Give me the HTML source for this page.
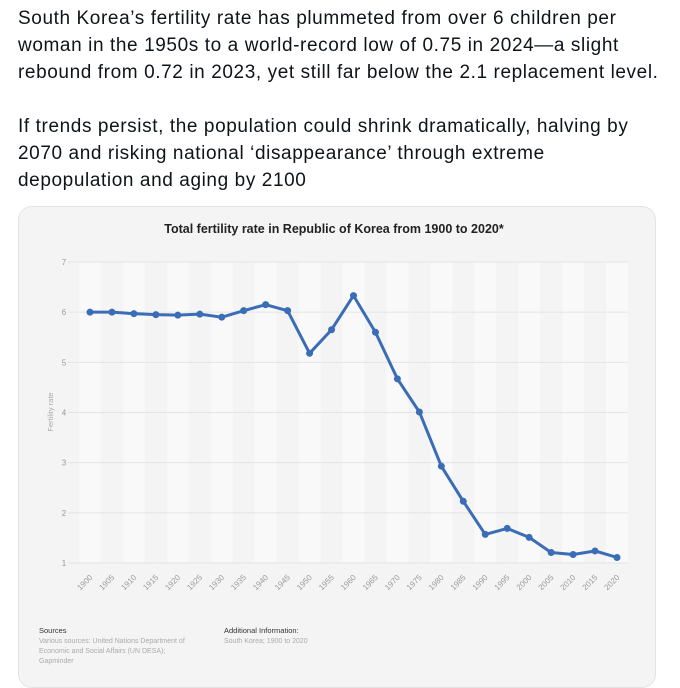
<!DOCTYPE html>
<html><head><meta charset="utf-8"><style>
body{margin:0;width:680px;height:667px;background:#fff;overflow:hidden;font-family:"Liberation Sans",sans-serif;}
#txt{position:absolute;left:18px;top:5px;width:660px;font-size:19px;line-height:27px;color:#0f1419;letter-spacing:0.6px;white-space:nowrap}
#card{position:absolute;left:18px;top:206px;width:636px;height:480px;border:1px solid #e3e3e3;border-radius:14px;background:#f4f4f4;overflow:hidden}
</style></head><body>
<div id="txt">South Korea’s fertility rate has plummeted from over 6 children per<br>woman in the 1950s to a world-record low of 0.75 in 2024—a slight<br>rebound from 0.72 in 2023, yet still far below the 2.1 replacement level.<br><br>If trends persist, the population could shrink dramatically, halving by<br>2070 and risking national ‘disappearance’ through extreme<br>depopulation and aging by 2100</div>
<div id="card"></div>
<svg id="chart" width="680" height="667" style="position:absolute;left:0;top:0"></svg>
<script>
const years=[1900,1905,1910,1915,1920,1925,1930,1935,1940,1945,1950,1955,1960,1965,1970,1975,1980,1985,1990,1995,2000,2005,2010,2015,2020];
const rates=[6.0,6.0,5.97,5.95,5.94,5.96,5.9,6.03,6.15,6.03,5.18,5.65,6.33,5.6,4.67,4.01,2.93,2.23,1.57,1.69,1.51,1.21,1.17,1.24,1.11];
const yTicks=[1,2,3,4,5,6,7];
const NS="http://www.w3.org/2000/svg";
const svg=document.getElementById('chart');
const x0=90,x1=617,yTop=262,yBot=563;
const xs=i=>x0+(x1-x0)*i/(years.length-1);
const ys=v=>yBot-(v-1)/(7-1)*(yBot-yTop);
function mk(t,a,p){const e=document.createElementNS(NS,t);for(const k in a)e.setAttribute(k,a[k]);(p||svg).appendChild(e);return e;}
const step=(x1-x0)/(years.length-1);
years.forEach((y,i)=>{if(i%2===0){const r=mk('rect',{x:xs(i)-step/2,y:yTop,width:step,height:yBot-yTop,fill:'#f9f9f9'});

}});
const tt=mk('text',{x:334,y:233,'text-anchor':'middle','font-size':12.5,'font-weight':'bold',fill:'#222'});tt.textContent='Total fertility rate in Republic of Korea from 1900 to 2020*';


yTicks.forEach(v=>{const l=mk('line',{x1:68,x2:628,y1:ys(v),y2:ys(v),stroke:'#e4e4e4'});


const t=mk('text',{x:64,y:ys(v)+3,'text-anchor':'middle','font-size':8,fill:'#999'});t.textContent=v;

});
const yt=mk('text',{x:0,y:0,transform:'translate(53,412) rotate(-90)','text-anchor':'middle','font-size':7.5,fill:'#aaa'});yt.textContent='Fertility rate';


years.forEach((y,i)=>{const t=mk('text',{x:0,y:0,transform:`translate(${xs(i)+3},${578}) rotate(-45)`,'text-anchor':'end','font-size':8,fill:'#999'});t.textContent=y;

});
const path=mk('polyline',{points:rates.map((v,i)=>xs(i)+','+ys(v)).join(' '),fill:'none',stroke:'#3a6db5','stroke-width':3,'stroke-linejoin':'round'});


rates.forEach((v,i)=>{const c=mk('circle',{cx:xs(i),cy:ys(v),r:3.5,fill:'#3a6db5'});

});
function txt(x,y,s,sz,col,w,name){const t=mk('text',{x,y,'font-size':sz,fill:col,'font-weight':w||'normal'});t.textContent=s;

}
txt(39,633,'Sources',7.5,'#333','normal','sources-label');
txt(39,643,'Various sources: United Nations Department of',7,'#aaa','normal','sources-text');
txt(39,653,'Economic and Social Affairs (UN DESA);',7,'#aaa','normal','sources-text');
txt(39,663,'Gapminder',7,'#aaa','normal','sources-text');
txt(224,633,'Additional Information:',7.5,'#333','normal','info-label');
txt(224,643,'South Korea; 1900 to 2020',7,'#aaa','normal','info-text');
</script>
</body></html>
